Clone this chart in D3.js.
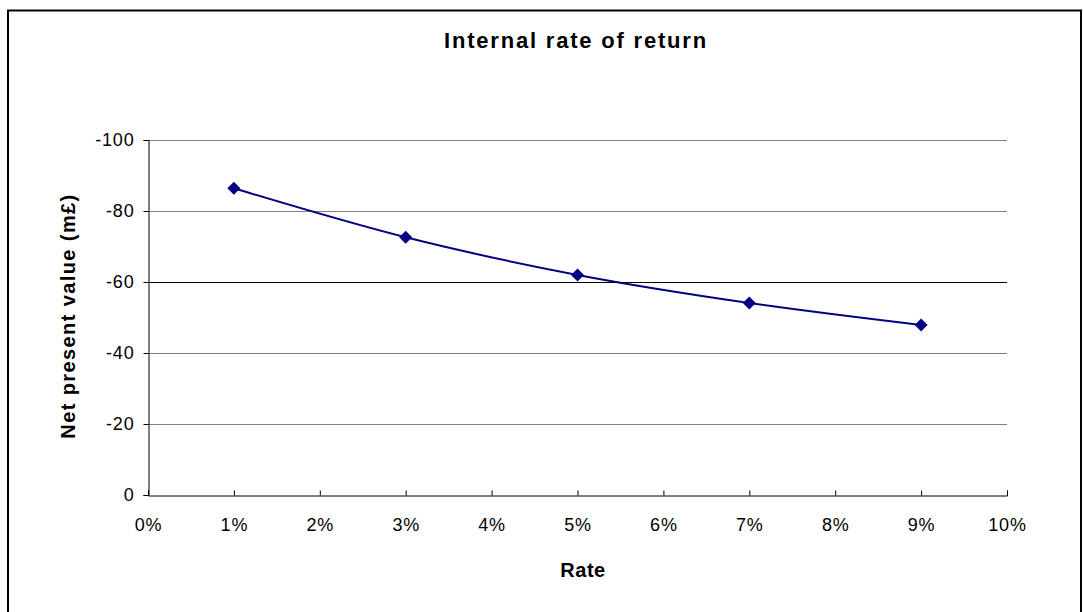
<!DOCTYPE html>
<html><head><meta charset="utf-8">
<script src="https://cdn.jsdelivr.net/npm/d3@7"></script>
<style>
html,body{margin:0;padding:0;background:#fff;}
svg{display:block;font-family:"Liberation Sans",Arial,sans-serif;}
</style></head>
<body><svg id="c" width="1083" height="612"></svg>
<script>
const rates = [0.01, 0.03, 0.05, 0.07, 0.09];
const npv = [-86.4, -72.6, -62.0, -54.1, -47.9];
const xTicks = [0,0.01,0.02,0.03,0.04,0.05,0.06,0.07,0.08,0.09,0.10];
const yTicks = [0,-20,-40,-60,-80,-100];
const title = "Internal rate of return";
const xLabel = "Rate";
const yLabel = "Net present value (m£)";

const svg = d3.select("#c");
const L=148, R=1007, T=140, B=495;
const x = d3.scaleLinear().domain([0,0.10]).range([L,R]);
const y = d3.scaleLinear().domain([0,-100]).range([B,T]);

// outer border
svg.append("rect").attr("x",8).attr("y",10.5).attr("width",1073).attr("height",620)
  .attr("fill","none").attr("stroke","#000").attr("stroke-width",2);

// gridlines
svg.append("g").selectAll("line").data(yTicks.filter(d=>d!==0)).join("line")
  .attr("x1",L).attr("x2",R).attr("y1",d=>Math.round(y(d))+0.5).attr("y2",d=>Math.round(y(d))+0.5)
  .attr("stroke",d=>d===-60?"#000":"#808080").attr("stroke-width",1);

// y axis
const ya = svg.append("g").attr("transform",`translate(${L+0.5},0)`)
  .call(d3.axisLeft(y).tickValues(yTicks).tickSize(5).tickPadding(9).tickFormat(d=>String(d)));
ya.select(".domain").attr("stroke","#000");
ya.selectAll(".tick line").attr("stroke","#000");
ya.selectAll(".tick text").attr("font-size",18).attr("letter-spacing",0.8).attr("fill","#000")
  .attr("font-family","Liberation Sans, Arial, sans-serif");

// x axis
const xa = svg.append("g").attr("transform",`translate(0,${B+0.5})`)
  .call(d3.axisBottom(x).tickValues(xTicks).tickSize(-5).tickPadding(23).tickFormat(d3.format(".0%")));
xa.select(".domain").attr("stroke","#000");
xa.selectAll(".tick line").attr("stroke","#000");
xa.selectAll(".tick text").attr("font-size",18).attr("letter-spacing",0.8).attr("fill","#000")
  .attr("font-family","Liberation Sans, Arial, sans-serif");

// line
const pts = rates.map((r,i)=>[r,npv[i]]);
svg.append("path").datum(pts)
  .attr("d", d3.line().x(d=>x(d[0])).y(d=>y(d[1])).curve(d3.curveCatmullRom.alpha(0.5)))
  .attr("fill","none").attr("stroke","#000080").attr("stroke-width",2);

// markers
svg.append("g").selectAll("path").data(pts).join("path")
  .attr("transform",d=>`translate(${x(d[0])},${y(d[1])})`)
  .attr("d","M0,-6.5L6.5,0L0,6.5L-6.5,0Z").attr("fill","#000080");

// titles
svg.append("text").attr("x",576).attr("y",48).attr("text-anchor","middle")
  .attr("font-size",22).attr("letter-spacing",1.8).attr("font-weight","bold").text(title);
svg.append("text").attr("x",583).attr("y",577).attr("text-anchor","middle")
  .attr("font-size",20).attr("letter-spacing",0.5).attr("font-weight","bold").text(xLabel);
svg.append("text").attr("transform","translate(75,316) rotate(-90)").attr("text-anchor","middle")
  .attr("font-size",20).attr("letter-spacing",1.4).attr("font-weight","bold").text(yLabel);
</script></body></html>
